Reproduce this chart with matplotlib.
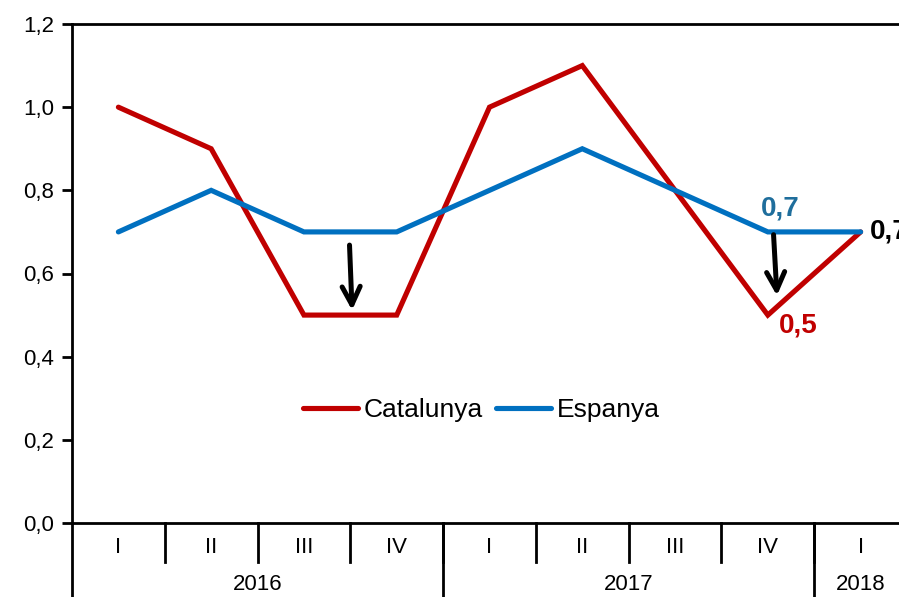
import matplotlib.pyplot as plt
import matplotlib.transforms as mtransforms

plt.rcParams['font.family'] = ['Liberation Sans', 'DejaVu Sans']

quarters = ['I', 'II', 'III', 'IV', 'I', 'II', 'III', 'IV', 'I']
years = ['2016', '2017', '2018']
year_spans = [(0, 4), (4, 8), (8, 9)]
catalunya = [1.0, 0.9, 0.5, 0.5, 1.0, 1.1, 0.8, 0.5, 0.7]
espanya = [0.7, 0.8, 0.7, 0.7, 0.8, 0.9, 0.8, 0.7, 0.7]

red = '#C00000'
blue = '#0070C0'

fig = plt.figure(figsize=(8.99, 5.97), dpi=100)
ax = fig.add_axes([72 / 899, 1 - 523 / 597, 835 / 899, 499 / 597])

x = list(range(len(quarters)))
ax.plot(x, catalunya, color=red, linewidth=3.7, label='Catalunya',
        solid_joinstyle='miter', solid_capstyle='round')
ax.plot(x, espanya, color=blue, linewidth=3.7, label='Espanya',
        solid_joinstyle='miter', solid_capstyle='round')

ax.set_xlim(-0.5, len(quarters) - 0.5)
ax.set_ylim(0, 1.2)
ax.set_yticks([0, 0.2, 0.4, 0.6, 0.8, 1.0, 1.2])
ax.set_yticklabels(['0,0', '0,2', '0,4', '0,6', '0,8', '1,0', '1,2'], fontsize=16)
ax.tick_params(axis='y', direction='out', length=7, width=2, pad=6)
ax.set_xticks([])
for s in ['left', 'top', 'bottom']:
    ax.spines[s].set_linewidth(2)
ax.spines['right'].set_visible(False)

# category axis
trans = mtransforms.blended_transform_factory(ax.transData, ax.transAxes)
for i, q in enumerate(quarters):
    ax.text(i, -0.05, q, transform=trans, ha='center', va='center', fontsize=16)
for i in range(1, len(quarters)):
    ax.plot([i - 0.5, i - 0.5], [0, -0.078], transform=trans, color='black',
            linewidth=2, clip_on=False)
for (a, b), yr in zip(year_spans, years):
    ax.plot([a - 0.5, a - 0.5], [0, -0.15], transform=trans, color='black',
            linewidth=2, clip_on=False)
    ax.text((a + b - 1) / 2, -0.123, yr, transform=trans, ha='center', va='center',
            fontsize=16)

# arrows
arrow = dict(arrowstyle='->, head_length=1.3, head_width=0.65', color='black', lw=3.6)
ax.annotate('', xy=(2.52, 0.505), xytext=(2.49, 0.675), arrowprops=arrow)
ax.annotate('', xy=(7.1, 0.54), xytext=(7.06, 0.70), arrowprops=arrow)

# labels
ax.text(7.13, 0.757, '0,7', color='#1F6E9C', fontsize=20, fontweight='bold',
        ha='center', va='center')
ax.text(7.33, 0.474, '0,5', color=red, fontsize=20, fontweight='bold',
        ha='center', va='center')
ax.text(8.1, 0.70, '0,7', color='black', fontsize=20, fontweight='bold',
        ha='left', va='center')

ax.legend(loc='center', bbox_to_anchor=(0.49, 0.226), ncol=2, frameon=False,
          fontsize=19, handlelength=2.1, columnspacing=0.5, handletextpad=0.2)

fig.savefig('out.png', dpi=100)
